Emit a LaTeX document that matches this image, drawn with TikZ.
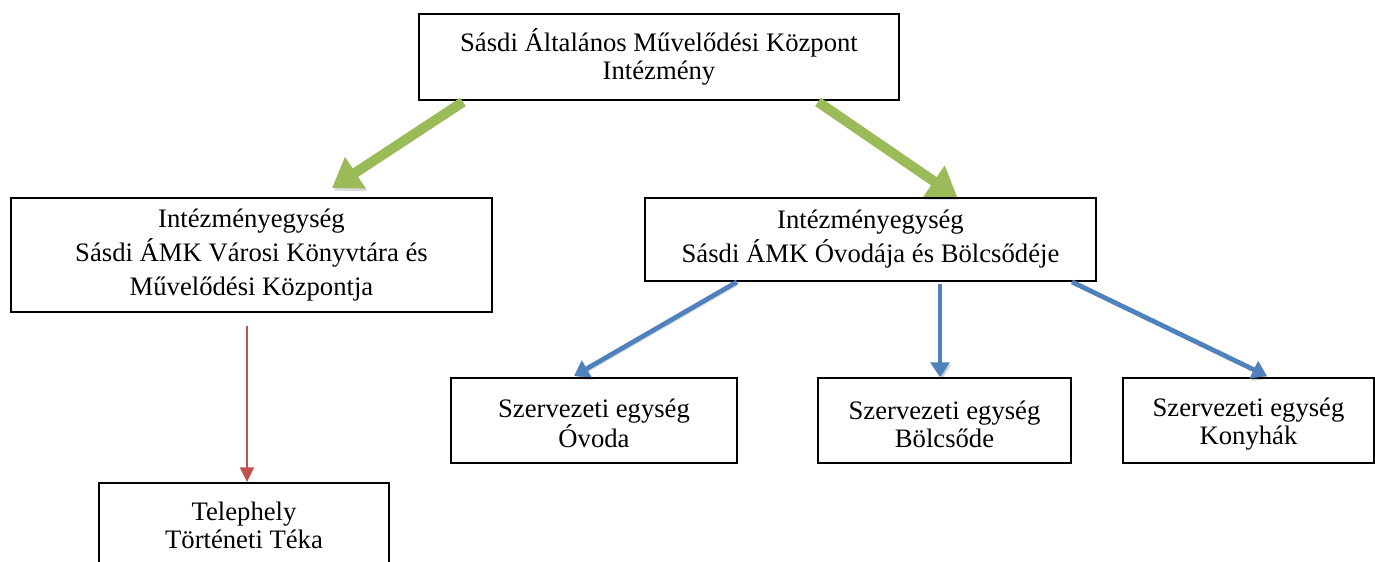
\documentclass[tikz,border=0pt]{standalone}
\usepackage{fontspec}
\setmainfont{Liberation Serif}
\usetikzlibrary{arrows.meta,calc}
\definecolor{ogreen}{HTML}{9BBB59}
\definecolor{oblue}{HTML}{4F81BD}
\definecolor{ored}{HTML}{C0504D}
\begin{document}
\begin{tikzpicture}[x=0.75pt,y=-0.75pt,
  box/.style={draw=black,line width=1.4pt,rectangle,align=center,inner sep=0pt,
    font=\fontsize{20}{21}\selectfont},
  widebox/.style={box,font=\fontsize{20}{25.5}\selectfont},
  lowbox/.style={box,text height=40.5pt},
  shadowed/.style={preaction={draw=black,fill=black,opacity=0.15,
    transform canvas={shift={(1.2pt,-2pt)}}}},
  garrow/.style={shadowed,draw=ogreen,line width=7.5pt,-{Triangle[length=21pt,width=27pt]}},
  barrow/.style={shadowed,draw=oblue,line width=3.6pt,-{Triangle[length=11pt,width=14pt]}},
  rarrow/.style={draw=ored,line width=1.5pt,-{Triangle[length=11pt,width=10.5pt]}}]
\useasboundingbox (0,0) rectangle (1375,561);
\clip (0,0) rectangle (1375,561);
\fill[white] (0,0) rectangle (1375,561);
\node[box,minimum width=360pt,minimum height=64.5pt] (top) at (659,57)
  {Sásdi Általános Művelődési Központ\\Intézmény};
\node[widebox,minimum width=360.75pt,minimum height=85.5pt] (left) at (251.5,255)
  {Intézményegység\\Sásdi ÁMK Városi Könyvtára és\\Művelődési Központja};
\node[widebox,minimum width=338.25pt,minimum height=62.25pt] (right) at (870.5,239.5)
  {Intézményegység\\Sásdi ÁMK Óvodája és Bölcsődéje};
\node[lowbox,minimum width=214.5pt,minimum height=63.75pt] (ovoda) at (594,420.5)
  {Szervezeti egység\\Óvoda};
\node[lowbox,minimum width=189.75pt,minimum height=63.75pt] (bolcsode) at (944.5,420.5)
  {Szervezeti egység\\Bölcsőde};
\node[lowbox,minimum width=188.25pt,minimum height=63.75pt] (konyha) at (1248.5,420.5)
  {Szervezeti egység\\Konyhák};
\node[box,minimum width=217.5pt,minimum height=63.75pt] (teka) at (244,525.5)
  {Telephely\\Történeti Téka};
\draw[garrow] ($(top.south)+(-196,1)$) -- ($(left.north)+(80.5,-9)$);
\draw[garrow] ($(top.south)+(159,1)$) -- ($(right.north)+(86.5,0)$);
\draw[barrow] ($(right.south)+(-133.5,0)$) -- ($(ovoda.north)+(-20,-1)$);
\draw[barrow] ($(right.south)+(69.5,2)$) -- ($(bolcsode.north)+(-4.5,0)$);
\draw[barrow] ($(right.south)+(201.5,0)$) -- ($(konyha.north)+(18.5,-1)$);
\draw[rarrow] ($(left.south)+(-4.5,13)$) -- ($(teka.north)+(3,0)$);
\end{tikzpicture}
\end{document}
